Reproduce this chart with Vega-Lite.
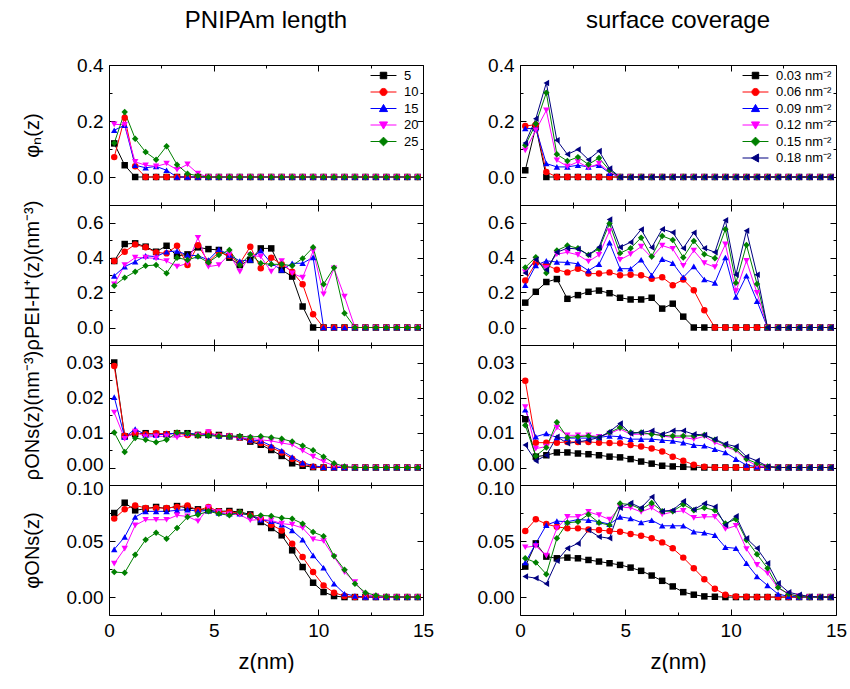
{
"$schema":"https://vega.github.io/schema/vega-lite/v6.json",
"padding":{"left":21,"top":8,"right":0,"bottom":0},
"background":"white",
"bounds":"flush",
"align":"each",
"columns":2,
"spacing":{"row":0,"column":97},
"resolve":{"scale":{"color":"independent","shape":"independent","fill":"independent","stroke":"independent"}},
"config":{
"view":{"stroke":"#000","strokeWidth":1},
"axis":{"domain":false,"grid":false,"labelFont":"Liberation Sans","labelFontSize":19,"labelColor":"#000","titleFont":"Liberation Sans","titleFontSize":20,"titleFontWeight":"normal","titleColor":"#000","tickColor":"#000","tickWidth":1,"labelPadding":12,"labelFlush":false,"labelOverlap":false,"labelBound":false},
"legend":{"labelFont":"Liberation Sans","labelFontSize":13,"labelColor":"#000","symbolSize":42,"symbolStrokeWidth":1,"rowPadding":2.5,"labelOffset":14,"padding":2,"offset":2},
"title":{"font":"Liberation Sans","fontSize":24,"fontWeight":"normal","color":"#000"}
},
"datasets":{
"a1":[
{"s":"5","x":0.25,"y":0.12},{"s":"5","x":0.75,"y":0.042},{"s":"5","x":1.25,"y":0},{"s":"5","x":1.75,"y":0},{"s":"5","x":2.25,"y":0},{"s":"5","x":2.75,"y":0},{"s":"5","x":3.25,"y":0},{"s":"5","x":3.75,"y":0},{"s":"5","x":4.25,"y":0},{"s":"5","x":4.75,"y":0},{"s":"5","x":5.25,"y":0},{"s":"5","x":5.75,"y":0},{"s":"5","x":6.25,"y":0},{"s":"5","x":6.75,"y":0},{"s":"5","x":7.25,"y":0},{"s":"5","x":7.75,"y":0},{"s":"5","x":8.25,"y":0},{"s":"5","x":8.75,"y":0},{"s":"5","x":9.25,"y":0},{"s":"5","x":9.75,"y":0},{"s":"5","x":10.25,"y":0},{"s":"5","x":10.75,"y":0},{"s":"5","x":11.25,"y":0},{"s":"5","x":11.75,"y":0},{"s":"5","x":12.25,"y":0},{"s":"5","x":12.75,"y":0},{"s":"5","x":13.25,"y":0},{"s":"5","x":13.75,"y":0},{"s":"5","x":14.25,"y":0},{"s":"5","x":14.75,"y":0},
{"s":"10","x":0.25,"y":0.071},{"s":"10","x":0.75,"y":0.212},{"s":"10","x":1.25,"y":0.038},{"s":"10","x":1.75,"y":0},{"s":"10","x":2.25,"y":0},{"s":"10","x":2.75,"y":0},{"s":"10","x":3.25,"y":0},{"s":"10","x":3.75,"y":0},{"s":"10","x":4.25,"y":0},{"s":"10","x":4.75,"y":0},{"s":"10","x":5.25,"y":0},{"s":"10","x":5.75,"y":0},{"s":"10","x":6.25,"y":0},{"s":"10","x":6.75,"y":0},{"s":"10","x":7.25,"y":0},{"s":"10","x":7.75,"y":0},{"s":"10","x":8.25,"y":0},{"s":"10","x":8.75,"y":0},{"s":"10","x":9.25,"y":0},{"s":"10","x":9.75,"y":0},{"s":"10","x":10.25,"y":0},{"s":"10","x":10.75,"y":0},{"s":"10","x":11.25,"y":0},{"s":"10","x":11.75,"y":0},{"s":"10","x":12.25,"y":0},{"s":"10","x":12.75,"y":0},{"s":"10","x":13.25,"y":0},{"s":"10","x":13.75,"y":0},{"s":"10","x":14.25,"y":0},{"s":"10","x":14.75,"y":0},
{"s":"15","x":0.25,"y":0.167},{"s":"15","x":0.75,"y":0.185},{"s":"15","x":1.25,"y":0.042},{"s":"15","x":1.75,"y":0.033},{"s":"15","x":2.25,"y":0.038},{"s":"15","x":2.75,"y":0.024},{"s":"15","x":3.25,"y":0},{"s":"15","x":3.75,"y":0},{"s":"15","x":4.25,"y":0},{"s":"15","x":4.75,"y":0},{"s":"15","x":5.25,"y":0},{"s":"15","x":5.75,"y":0},{"s":"15","x":6.25,"y":0},{"s":"15","x":6.75,"y":0},{"s":"15","x":7.25,"y":0},{"s":"15","x":7.75,"y":0},{"s":"15","x":8.25,"y":0},{"s":"15","x":8.75,"y":0},{"s":"15","x":9.25,"y":0},{"s":"15","x":9.75,"y":0},{"s":"15","x":10.25,"y":0},{"s":"15","x":10.75,"y":0},{"s":"15","x":11.25,"y":0},{"s":"15","x":11.75,"y":0},{"s":"15","x":12.25,"y":0},{"s":"15","x":12.75,"y":0},{"s":"15","x":13.25,"y":0},{"s":"15","x":13.75,"y":0},{"s":"15","x":14.25,"y":0},{"s":"15","x":14.75,"y":0},
{"s":"20","x":0.25,"y":0.188},{"s":"20","x":0.75,"y":0.187},{"s":"20","x":1.25,"y":0.054},{"s":"20","x":1.75,"y":0.042},{"s":"20","x":2.25,"y":0.038},{"s":"20","x":2.75,"y":0.048},{"s":"20","x":3.25,"y":0.026},{"s":"20","x":3.75,"y":0.045},{"s":"20","x":4.25,"y":0.012},{"s":"20","x":4.75,"y":0},{"s":"20","x":5.25,"y":0},{"s":"20","x":5.75,"y":0},{"s":"20","x":6.25,"y":0},{"s":"20","x":6.75,"y":0},{"s":"20","x":7.25,"y":0},{"s":"20","x":7.75,"y":0},{"s":"20","x":8.25,"y":0},{"s":"20","x":8.75,"y":0},{"s":"20","x":9.25,"y":0},{"s":"20","x":9.75,"y":0},{"s":"20","x":10.25,"y":0},{"s":"20","x":10.75,"y":0},{"s":"20","x":11.25,"y":0},{"s":"20","x":11.75,"y":0},{"s":"20","x":12.25,"y":0},{"s":"20","x":12.75,"y":0},{"s":"20","x":13.25,"y":0},{"s":"20","x":13.75,"y":0},{"s":"20","x":14.25,"y":0},{"s":"20","x":14.75,"y":0},
{"s":"25","x":0.25,"y":0.121},{"s":"25","x":0.75,"y":0.232},{"s":"25","x":1.25,"y":0.137},{"s":"25","x":1.75,"y":0.089},{"s":"25","x":2.25,"y":0.062},{"s":"25","x":2.75,"y":0.11},{"s":"25","x":3.25,"y":0.044},{"s":"25","x":3.75,"y":0.012},{"s":"25","x":4.25,"y":0.004},{"s":"25","x":4.75,"y":0},{"s":"25","x":5.25,"y":0},{"s":"25","x":5.75,"y":0},{"s":"25","x":6.25,"y":0},{"s":"25","x":6.75,"y":0},{"s":"25","x":7.25,"y":0},{"s":"25","x":7.75,"y":0},{"s":"25","x":8.25,"y":0},{"s":"25","x":8.75,"y":0},{"s":"25","x":9.25,"y":0},{"s":"25","x":9.75,"y":0},{"s":"25","x":10.25,"y":0},{"s":"25","x":10.75,"y":0},{"s":"25","x":11.25,"y":0},{"s":"25","x":11.75,"y":0},{"s":"25","x":12.25,"y":0},{"s":"25","x":12.75,"y":0},{"s":"25","x":13.25,"y":0},{"s":"25","x":13.75,"y":0},{"s":"25","x":14.25,"y":0},{"s":"25","x":14.75,"y":0}
],
"b1":[
{"s":"0.03","x":0.25,"y":0.024},{"s":"0.03","x":0.75,"y":0.18},{"s":"0.03","x":1.25,"y":0},{"s":"0.03","x":1.75,"y":0},{"s":"0.03","x":2.25,"y":0},{"s":"0.03","x":2.75,"y":0},{"s":"0.03","x":3.25,"y":0},{"s":"0.03","x":3.75,"y":0},{"s":"0.03","x":4.25,"y":0},{"s":"0.03","x":4.75,"y":0},{"s":"0.03","x":5.25,"y":0},{"s":"0.03","x":5.75,"y":0},{"s":"0.03","x":6.25,"y":0},{"s":"0.03","x":6.75,"y":0},{"s":"0.03","x":7.25,"y":0},{"s":"0.03","x":7.75,"y":0},{"s":"0.03","x":8.25,"y":0},{"s":"0.03","x":8.75,"y":0},{"s":"0.03","x":9.25,"y":0},{"s":"0.03","x":9.75,"y":0},{"s":"0.03","x":10.25,"y":0},{"s":"0.03","x":10.75,"y":0},{"s":"0.03","x":11.25,"y":0},{"s":"0.03","x":11.75,"y":0},{"s":"0.03","x":12.25,"y":0},{"s":"0.03","x":12.75,"y":0},{"s":"0.03","x":13.25,"y":0},{"s":"0.03","x":13.75,"y":0},{"s":"0.03","x":14.25,"y":0},{"s":"0.03","x":14.75,"y":0},
{"s":"0.06","x":0.25,"y":0.182},{"s":"0.06","x":0.75,"y":0.187},{"s":"0.06","x":1.25,"y":0.018},{"s":"0.06","x":1.75,"y":0},{"s":"0.06","x":2.25,"y":0},{"s":"0.06","x":2.75,"y":0},{"s":"0.06","x":3.25,"y":0},{"s":"0.06","x":3.75,"y":0},{"s":"0.06","x":4.25,"y":0},{"s":"0.06","x":4.75,"y":0},{"s":"0.06","x":5.25,"y":0},{"s":"0.06","x":5.75,"y":0},{"s":"0.06","x":6.25,"y":0},{"s":"0.06","x":6.75,"y":0},{"s":"0.06","x":7.25,"y":0},{"s":"0.06","x":7.75,"y":0},{"s":"0.06","x":8.25,"y":0},{"s":"0.06","x":8.75,"y":0},{"s":"0.06","x":9.25,"y":0},{"s":"0.06","x":9.75,"y":0},{"s":"0.06","x":10.25,"y":0},{"s":"0.06","x":10.75,"y":0},{"s":"0.06","x":11.25,"y":0},{"s":"0.06","x":11.75,"y":0},{"s":"0.06","x":12.25,"y":0},{"s":"0.06","x":12.75,"y":0},{"s":"0.06","x":13.25,"y":0},{"s":"0.06","x":13.75,"y":0},{"s":"0.06","x":14.25,"y":0},{"s":"0.06","x":14.75,"y":0},
{"s":"0.09","x":0.25,"y":0.173},{"s":"0.09","x":0.75,"y":0.173},{"s":"0.09","x":1.25,"y":0.048},{"s":"0.09","x":1.75,"y":0.036},{"s":"0.09","x":2.25,"y":0.036},{"s":"0.09","x":2.75,"y":0.042},{"s":"0.09","x":3.25,"y":0.036},{"s":"0.09","x":3.75,"y":0.042},{"s":"0.09","x":4.25,"y":0.014},{"s":"0.09","x":4.75,"y":0},{"s":"0.09","x":5.25,"y":0},{"s":"0.09","x":5.75,"y":0},{"s":"0.09","x":6.25,"y":0},{"s":"0.09","x":6.75,"y":0},{"s":"0.09","x":7.25,"y":0},{"s":"0.09","x":7.75,"y":0},{"s":"0.09","x":8.25,"y":0},{"s":"0.09","x":8.75,"y":0},{"s":"0.09","x":9.25,"y":0},{"s":"0.09","x":9.75,"y":0},{"s":"0.09","x":10.25,"y":0},{"s":"0.09","x":10.75,"y":0},{"s":"0.09","x":11.25,"y":0},{"s":"0.09","x":11.75,"y":0},{"s":"0.09","x":12.25,"y":0},{"s":"0.09","x":12.75,"y":0},{"s":"0.09","x":13.25,"y":0},{"s":"0.09","x":13.75,"y":0},{"s":"0.09","x":14.25,"y":0},{"s":"0.09","x":14.75,"y":0},
{"s":"0.12","x":0.25,"y":0.095},{"s":"0.12","x":0.75,"y":0.167},{"s":"0.12","x":1.25,"y":0.238},{"s":"0.12","x":1.75,"y":0.06},{"s":"0.12","x":2.25,"y":0.038},{"s":"0.12","x":2.75,"y":0.054},{"s":"0.12","x":3.25,"y":0.033},{"s":"0.12","x":3.75,"y":0.048},{"s":"0.12","x":4.25,"y":0.018},{"s":"0.12","x":4.75,"y":0},{"s":"0.12","x":5.25,"y":0},{"s":"0.12","x":5.75,"y":0},{"s":"0.12","x":6.25,"y":0},{"s":"0.12","x":6.75,"y":0},{"s":"0.12","x":7.25,"y":0},{"s":"0.12","x":7.75,"y":0},{"s":"0.12","x":8.25,"y":0},{"s":"0.12","x":8.75,"y":0},{"s":"0.12","x":9.25,"y":0},{"s":"0.12","x":9.75,"y":0},{"s":"0.12","x":10.25,"y":0},{"s":"0.12","x":10.75,"y":0},{"s":"0.12","x":11.25,"y":0},{"s":"0.12","x":11.75,"y":0},{"s":"0.12","x":12.25,"y":0},{"s":"0.12","x":12.75,"y":0},{"s":"0.12","x":13.25,"y":0},{"s":"0.12","x":13.75,"y":0},{"s":"0.12","x":14.25,"y":0},{"s":"0.12","x":14.75,"y":0},
{"s":"0.15","x":0.25,"y":0.113},{"s":"0.15","x":0.75,"y":0.19},{"s":"0.15","x":1.25,"y":0.301},{"s":"0.15","x":1.75,"y":0.081},{"s":"0.15","x":2.25,"y":0.057},{"s":"0.15","x":2.75,"y":0.071},{"s":"0.15","x":3.25,"y":0.045},{"s":"0.15","x":3.75,"y":0.068},{"s":"0.15","x":4.25,"y":0.024},{"s":"0.15","x":4.75,"y":0},{"s":"0.15","x":5.25,"y":0},{"s":"0.15","x":5.75,"y":0},{"s":"0.15","x":6.25,"y":0},{"s":"0.15","x":6.75,"y":0},{"s":"0.15","x":7.25,"y":0},{"s":"0.15","x":7.75,"y":0},{"s":"0.15","x":8.25,"y":0},{"s":"0.15","x":8.75,"y":0},{"s":"0.15","x":9.25,"y":0},{"s":"0.15","x":9.75,"y":0},{"s":"0.15","x":10.25,"y":0},{"s":"0.15","x":10.75,"y":0},{"s":"0.15","x":11.25,"y":0},{"s":"0.15","x":11.75,"y":0},{"s":"0.15","x":12.25,"y":0},{"s":"0.15","x":12.75,"y":0},{"s":"0.15","x":13.25,"y":0},{"s":"0.15","x":13.75,"y":0},{"s":"0.15","x":14.25,"y":0},{"s":"0.15","x":14.75,"y":0},
{"s":"0.18","x":0.25,"y":0.121},{"s":"0.18","x":0.75,"y":0.208},{"s":"0.18","x":1.25,"y":0.336},{"s":"0.18","x":1.75,"y":0.131},{"s":"0.18","x":2.25,"y":0.081},{"s":"0.18","x":2.75,"y":0.098},{"s":"0.18","x":3.25,"y":0.062},{"s":"0.18","x":3.75,"y":0.093},{"s":"0.18","x":4.25,"y":0.03},{"s":"0.18","x":4.75,"y":0},{"s":"0.18","x":5.25,"y":0},{"s":"0.18","x":5.75,"y":0},{"s":"0.18","x":6.25,"y":0},{"s":"0.18","x":6.75,"y":0},{"s":"0.18","x":7.25,"y":0},{"s":"0.18","x":7.75,"y":0},{"s":"0.18","x":8.25,"y":0},{"s":"0.18","x":8.75,"y":0},{"s":"0.18","x":9.25,"y":0},{"s":"0.18","x":9.75,"y":0},{"s":"0.18","x":10.25,"y":0},{"s":"0.18","x":10.75,"y":0},{"s":"0.18","x":11.25,"y":0},{"s":"0.18","x":11.75,"y":0},{"s":"0.18","x":12.25,"y":0},{"s":"0.18","x":12.75,"y":0},{"s":"0.18","x":13.25,"y":0},{"s":"0.18","x":13.75,"y":0},{"s":"0.18","x":14.25,"y":0},{"s":"0.18","x":14.75,"y":0}
],
"a2":[
{"s":"5","x":0.25,"y":0.38},{"s":"5","x":0.75,"y":0.477},{"s":"5","x":1.25,"y":0.481},{"s":"5","x":1.75,"y":0.462},{"s":"5","x":2.25,"y":0.433},{"s":"5","x":2.75,"y":0.467},{"s":"5","x":3.25,"y":0.409},{"s":"5","x":3.75,"y":0.418},{"s":"5","x":4.25,"y":0.458},{"s":"5","x":4.75,"y":0.448},{"s":"5","x":5.25,"y":0.443},{"s":"5","x":5.75,"y":0.399},{"s":"5","x":6.25,"y":0.357},{"s":"5","x":6.75,"y":0.386},{"s":"5","x":7.25,"y":0.452},{"s":"5","x":7.75,"y":0.452},{"s":"5","x":8.25,"y":0.329},{"s":"5","x":8.75,"y":0.291},{"s":"5","x":9.25,"y":0.12},{"s":"5","x":9.75,"y":0},{"s":"5","x":10.25,"y":0},{"s":"5","x":10.75,"y":0},{"s":"5","x":11.25,"y":0},{"s":"5","x":11.75,"y":0},{"s":"5","x":12.25,"y":0},{"s":"5","x":12.75,"y":0},{"s":"5","x":13.25,"y":0},{"s":"5","x":13.75,"y":0},{"s":"5","x":14.25,"y":0},{"s":"5","x":14.75,"y":0},
{"s":"10","x":0.25,"y":0.38},{"s":"10","x":0.75,"y":0.433},{"s":"10","x":1.25,"y":0.475},{"s":"10","x":1.75,"y":0.458},{"s":"10","x":2.25,"y":0.429},{"s":"10","x":2.75,"y":0.424},{"s":"10","x":3.25,"y":0.467},{"s":"10","x":3.75,"y":0.357},{"s":"10","x":4.25,"y":0.47},{"s":"10","x":4.75,"y":0.376},{"s":"10","x":5.25,"y":0.43},{"s":"10","x":5.75,"y":0.41},{"s":"10","x":6.25,"y":0.367},{"s":"10","x":6.75,"y":0.462},{"s":"10","x":7.25,"y":0.338},{"s":"10","x":7.75,"y":0.399},{"s":"10","x":8.25,"y":0.361},{"s":"10","x":8.75,"y":0.319},{"s":"10","x":9.25,"y":0.247},{"s":"10","x":9.75,"y":0.076},{"s":"10","x":10.25,"y":0},{"s":"10","x":10.75,"y":0},{"s":"10","x":11.25,"y":0},{"s":"10","x":11.75,"y":0},{"s":"10","x":12.25,"y":0},{"s":"10","x":12.75,"y":0},{"s":"10","x":13.25,"y":0},{"s":"10","x":13.75,"y":0},{"s":"10","x":14.25,"y":0},{"s":"10","x":14.75,"y":0},
{"s":"15","x":0.25,"y":0.295},{"s":"15","x":0.75,"y":0.348},{"s":"15","x":1.25,"y":0.376},{"s":"15","x":1.75,"y":0.41},{"s":"15","x":2.25,"y":0.405},{"s":"15","x":2.75,"y":0.433},{"s":"15","x":3.25,"y":0.437},{"s":"15","x":3.75,"y":0.414},{"s":"15","x":4.25,"y":0.41},{"s":"15","x":4.75,"y":0.386},{"s":"15","x":5.25,"y":0.447},{"s":"15","x":5.75,"y":0.414},{"s":"15","x":6.25,"y":0.38},{"s":"15","x":6.75,"y":0.386},{"s":"15","x":7.25,"y":0.439},{"s":"15","x":7.75,"y":0.367},{"s":"15","x":8.25,"y":0.329},{"s":"15","x":8.75,"y":0.367},{"s":"15","x":9.25,"y":0.367},{"s":"15","x":9.75,"y":0.401},{"s":"15","x":10.25,"y":0},{"s":"15","x":10.75,"y":0},{"s":"15","x":11.25,"y":0},{"s":"15","x":11.75,"y":0},{"s":"15","x":12.25,"y":0},{"s":"15","x":12.75,"y":0},{"s":"15","x":13.25,"y":0},{"s":"15","x":13.75,"y":0},{"s":"15","x":14.25,"y":0},{"s":"15","x":14.75,"y":0},
{"s":"20","x":0.25,"y":0.247},{"s":"20","x":0.75,"y":0.357},{"s":"20","x":1.25,"y":0.399},{"s":"20","x":1.75,"y":0.399},{"s":"20","x":2.25,"y":0.395},{"s":"20","x":2.75,"y":0.38},{"s":"20","x":3.25,"y":0.348},{"s":"20","x":3.75,"y":0.367},{"s":"20","x":4.25,"y":0.513},{"s":"20","x":4.75,"y":0.348},{"s":"20","x":5.25,"y":0.357},{"s":"20","x":5.75,"y":0.418},{"s":"20","x":6.25,"y":0.319},{"s":"20","x":6.75,"y":0.414},{"s":"20","x":7.25,"y":0.405},{"s":"20","x":7.75,"y":0.319},{"s":"20","x":8.25,"y":0.38},{"s":"20","x":8.75,"y":0.31},{"s":"20","x":9.25,"y":0.285},{"s":"20","x":9.75,"y":0.437},{"s":"20","x":10.25,"y":0.19},{"s":"20","x":10.75,"y":0.338},{"s":"20","x":11.25,"y":0.177},{"s":"20","x":11.75,"y":0},{"s":"20","x":12.25,"y":0},{"s":"20","x":12.75,"y":0},{"s":"20","x":13.25,"y":0},{"s":"20","x":13.75,"y":0},{"s":"20","x":14.25,"y":0},{"s":"20","x":14.75,"y":0},
{"s":"25","x":0.25,"y":0.239},{"s":"25","x":0.75,"y":0.285},{"s":"25","x":1.25,"y":0.319},{"s":"25","x":1.75,"y":0.353},{"s":"25","x":2.25,"y":0.357},{"s":"25","x":2.75,"y":0.31},{"s":"25","x":3.25,"y":0.399},{"s":"25","x":3.75,"y":0.386},{"s":"25","x":4.25,"y":0.405},{"s":"25","x":4.75,"y":0.372},{"s":"25","x":5.25,"y":0.414},{"s":"25","x":5.75,"y":0.443},{"s":"25","x":6.25,"y":0.357},{"s":"25","x":6.75,"y":0.418},{"s":"25","x":7.25,"y":0.367},{"s":"25","x":7.75,"y":0.361},{"s":"25","x":8.25,"y":0.361},{"s":"25","x":8.75,"y":0.353},{"s":"25","x":9.25,"y":0.395},{"s":"25","x":9.75,"y":0.458},{"s":"25","x":10.25,"y":0.247},{"s":"25","x":10.75,"y":0.342},{"s":"25","x":11.25,"y":0.082},{"s":"25","x":11.75,"y":0},{"s":"25","x":12.25,"y":0},{"s":"25","x":12.75,"y":0},{"s":"25","x":13.25,"y":0},{"s":"25","x":13.75,"y":0},{"s":"25","x":14.25,"y":0},{"s":"25","x":14.75,"y":0}
],
"b2":[
{"s":"0.03","x":0.25,"y":0.142},{"s":"0.03","x":0.75,"y":0.204},{"s":"0.03","x":1.25,"y":0.26},{"s":"0.03","x":1.75,"y":0.277},{"s":"0.03","x":2.25,"y":0.164},{"s":"0.03","x":2.75,"y":0.185},{"s":"0.03","x":3.25,"y":0.204},{"s":"0.03","x":3.75,"y":0.211},{"s":"0.03","x":4.25,"y":0.196},{"s":"0.03","x":4.75,"y":0.17},{"s":"0.03","x":5.25,"y":0.16},{"s":"0.03","x":5.75,"y":0.16},{"s":"0.03","x":6.25,"y":0.17},{"s":"0.03","x":6.75,"y":0.108},{"s":"0.03","x":7.25,"y":0.136},{"s":"0.03","x":7.75,"y":0.062},{"s":"0.03","x":8.25,"y":0},{"s":"0.03","x":8.75,"y":0},{"s":"0.03","x":9.25,"y":0},{"s":"0.03","x":9.75,"y":0},{"s":"0.03","x":10.25,"y":0},{"s":"0.03","x":10.75,"y":0},{"s":"0.03","x":11.25,"y":0},{"s":"0.03","x":11.75,"y":0},{"s":"0.03","x":12.25,"y":0},{"s":"0.03","x":12.75,"y":0},{"s":"0.03","x":13.25,"y":0},{"s":"0.03","x":13.75,"y":0},{"s":"0.03","x":14.25,"y":0},{"s":"0.03","x":14.75,"y":0},
{"s":"0.06","x":0.25,"y":0.268},{"s":"0.06","x":0.75,"y":0.368},{"s":"0.06","x":1.25,"y":0.358},{"s":"0.06","x":1.75,"y":0.33},{"s":"0.06","x":2.25,"y":0.315},{"s":"0.06","x":2.75,"y":0.336},{"s":"0.06","x":3.25,"y":0.308},{"s":"0.06","x":3.75,"y":0.308},{"s":"0.06","x":4.25,"y":0.315},{"s":"0.06","x":4.75,"y":0.298},{"s":"0.06","x":5.25,"y":0.302},{"s":"0.06","x":5.75,"y":0.298},{"s":"0.06","x":6.25,"y":0.279},{"s":"0.06","x":6.75,"y":0.287},{"s":"0.06","x":7.25,"y":0.242},{"s":"0.06","x":7.75,"y":0.274},{"s":"0.06","x":8.25,"y":0.213},{"s":"0.06","x":8.75,"y":0.098},{"s":"0.06","x":9.25,"y":0},{"s":"0.06","x":9.75,"y":0},{"s":"0.06","x":10.25,"y":0},{"s":"0.06","x":10.75,"y":0},{"s":"0.06","x":11.25,"y":0},{"s":"0.06","x":11.75,"y":0},{"s":"0.06","x":12.25,"y":0},{"s":"0.06","x":12.75,"y":0},{"s":"0.06","x":13.25,"y":0},{"s":"0.06","x":13.75,"y":0},{"s":"0.06","x":14.25,"y":0},{"s":"0.06","x":14.75,"y":0},
{"s":"0.09","x":0.25,"y":0.242},{"s":"0.09","x":0.75,"y":0.355},{"s":"0.09","x":1.25,"y":0.381},{"s":"0.09","x":1.75,"y":0.374},{"s":"0.09","x":2.25,"y":0.372},{"s":"0.09","x":2.75,"y":0.364},{"s":"0.09","x":3.25,"y":0.325},{"s":"0.09","x":3.75,"y":0.362},{"s":"0.09","x":4.25,"y":0.485},{"s":"0.09","x":4.75,"y":0.336},{"s":"0.09","x":5.25,"y":0.336},{"s":"0.09","x":5.75,"y":0.387},{"s":"0.09","x":6.25,"y":0.298},{"s":"0.09","x":6.75,"y":0.391},{"s":"0.09","x":7.25,"y":0.368},{"s":"0.09","x":7.75,"y":0.287},{"s":"0.09","x":8.25,"y":0.349},{"s":"0.09","x":8.75,"y":0.274},{"s":"0.09","x":9.25,"y":0.255},{"s":"0.09","x":9.75,"y":0.4},{"s":"0.09","x":10.25,"y":0.174},{"s":"0.09","x":10.75,"y":0.296},{"s":"0.09","x":11.25,"y":0.151},{"s":"0.09","x":11.75,"y":0},{"s":"0.09","x":12.25,"y":0},{"s":"0.09","x":12.75,"y":0},{"s":"0.09","x":13.25,"y":0},{"s":"0.09","x":13.75,"y":0},{"s":"0.09","x":14.25,"y":0},{"s":"0.09","x":14.75,"y":0},
{"s":"0.12","x":0.25,"y":0.317},{"s":"0.12","x":0.75,"y":0.387},{"s":"0.12","x":1.25,"y":0.34},{"s":"0.12","x":1.75,"y":0.419},{"s":"0.12","x":2.25,"y":0.43},{"s":"0.12","x":2.75,"y":0.415},{"s":"0.12","x":3.25,"y":0.377},{"s":"0.12","x":3.75,"y":0.415},{"s":"0.12","x":4.25,"y":0.551},{"s":"0.12","x":4.75,"y":0.387},{"s":"0.12","x":5.25,"y":0.419},{"s":"0.12","x":5.75,"y":0.462},{"s":"0.12","x":6.25,"y":0.4},{"s":"0.12","x":6.75,"y":0.468},{"s":"0.12","x":7.25,"y":0.449},{"s":"0.12","x":7.75,"y":0.353},{"s":"0.12","x":8.25,"y":0.44},{"s":"0.12","x":8.75,"y":0.368},{"s":"0.12","x":9.25,"y":0.345},{"s":"0.12","x":9.75,"y":0.475},{"s":"0.12","x":10.25,"y":0.208},{"s":"0.12","x":10.75,"y":0.381},{"s":"0.12","x":11.25,"y":0.198},{"s":"0.12","x":11.75,"y":0},{"s":"0.12","x":12.25,"y":0},{"s":"0.12","x":12.75,"y":0},{"s":"0.12","x":13.25,"y":0},{"s":"0.12","x":13.75,"y":0},{"s":"0.12","x":14.25,"y":0},{"s":"0.12","x":14.75,"y":0},
{"s":"0.15","x":0.25,"y":0.343},{"s":"0.15","x":0.75,"y":0.402},{"s":"0.15","x":1.25,"y":0.311},{"s":"0.15","x":1.75,"y":0.44},{"s":"0.15","x":2.25,"y":0.468},{"s":"0.15","x":2.75,"y":0.453},{"s":"0.15","x":3.25,"y":0.415},{"s":"0.15","x":3.75,"y":0.449},{"s":"0.15","x":4.25,"y":0.594},{"s":"0.15","x":4.75,"y":0.425},{"s":"0.15","x":5.25,"y":0.453},{"s":"0.15","x":5.75,"y":0.513},{"s":"0.15","x":6.25,"y":0.406},{"s":"0.15","x":6.75,"y":0.523},{"s":"0.15","x":7.25,"y":0.5},{"s":"0.15","x":7.75,"y":0.4},{"s":"0.15","x":8.25,"y":0.494},{"s":"0.15","x":8.75,"y":0.419},{"s":"0.15","x":9.25,"y":0.396},{"s":"0.15","x":9.75,"y":0.562},{"s":"0.15","x":10.25,"y":0.255},{"s":"0.15","x":10.75,"y":0.472},{"s":"0.15","x":11.25,"y":0.249},{"s":"0.15","x":11.75,"y":0},{"s":"0.15","x":12.25,"y":0},{"s":"0.15","x":12.75,"y":0},{"s":"0.15","x":13.25,"y":0},{"s":"0.15","x":13.75,"y":0},{"s":"0.15","x":14.25,"y":0},{"s":"0.15","x":14.75,"y":0},
{"s":"0.18","x":0.25,"y":0.311},{"s":"0.18","x":0.75,"y":0.387},{"s":"0.18","x":1.25,"y":0.33},{"s":"0.18","x":1.75,"y":0.43},{"s":"0.18","x":2.25,"y":0.453},{"s":"0.18","x":2.75,"y":0.449},{"s":"0.18","x":3.25,"y":0.415},{"s":"0.18","x":3.75,"y":0.459},{"s":"0.18","x":4.25,"y":0.617},{"s":"0.18","x":4.75,"y":0.459},{"s":"0.18","x":5.25,"y":0.487},{"s":"0.18","x":5.75,"y":0.56},{"s":"0.18","x":6.25,"y":0.457},{"s":"0.18","x":6.75,"y":0.562},{"s":"0.18","x":7.25,"y":0.543},{"s":"0.18","x":7.75,"y":0.453},{"s":"0.18","x":8.25,"y":0.542},{"s":"0.18","x":8.75,"y":0.453},{"s":"0.18","x":9.25,"y":0.43},{"s":"0.18","x":9.75,"y":0.613},{"s":"0.18","x":10.25,"y":0.302},{"s":"0.18","x":10.75,"y":0.553},{"s":"0.18","x":11.25,"y":0.302},{"s":"0.18","x":11.75,"y":0},{"s":"0.18","x":12.25,"y":0},{"s":"0.18","x":12.75,"y":0},{"s":"0.18","x":13.25,"y":0},{"s":"0.18","x":13.75,"y":0},{"s":"0.18","x":14.25,"y":0},{"s":"0.18","x":14.75,"y":0}
],
"a3":[
{"s":"5","x":0.25,"y":0.03},{"s":"5","x":0.75,"y":0.0089},{"s":"5","x":1.25,"y":0.0096},{"s":"5","x":1.75,"y":0.0098},{"s":"5","x":2.25,"y":0.0096},{"s":"5","x":2.75,"y":0.0095},{"s":"5","x":3.25,"y":0.0098},{"s":"5","x":3.75,"y":0.0098},{"s":"5","x":4.25,"y":0.0093},{"s":"5","x":4.75,"y":0.0093},{"s":"5","x":5.25,"y":0.0093},{"s":"5","x":5.75,"y":0.0089},{"s":"5","x":6.25,"y":0.0086},{"s":"5","x":6.75,"y":0.0074},{"s":"5","x":7.25,"y":0.0065},{"s":"5","x":7.75,"y":0.005},{"s":"5","x":8.25,"y":0.0033},{"s":"5","x":8.75,"y":0.0012},{"s":"5","x":9.25,"y":0.0005},{"s":"5","x":9.75,"y":0.0001},{"s":"5","x":10.25,"y":0},{"s":"5","x":10.75,"y":0},{"s":"5","x":11.25,"y":0},{"s":"5","x":11.75,"y":0},{"s":"5","x":12.25,"y":0},{"s":"5","x":12.75,"y":0},{"s":"5","x":13.25,"y":0},{"s":"5","x":13.75,"y":0},{"s":"5","x":14.25,"y":0},{"s":"5","x":14.75,"y":0},
{"s":"10","x":0.25,"y":0.029},{"s":"10","x":0.75,"y":0.0091},{"s":"10","x":1.25,"y":0.0098},{"s":"10","x":1.75,"y":0.0095},{"s":"10","x":2.25,"y":0.0098},{"s":"10","x":2.75,"y":0.0096},{"s":"10","x":3.25,"y":0.0098},{"s":"10","x":3.75,"y":0.0093},{"s":"10","x":4.25,"y":0.0093},{"s":"10","x":4.75,"y":0.01},{"s":"10","x":5.25,"y":0.0091},{"s":"10","x":5.75,"y":0.009},{"s":"10","x":6.25,"y":0.0086},{"s":"10","x":6.75,"y":0.0077},{"s":"10","x":7.25,"y":0.007},{"s":"10","x":7.75,"y":0.0057},{"s":"10","x":8.25,"y":0.0043},{"s":"10","x":8.75,"y":0.0025},{"s":"10","x":9.25,"y":0.001},{"s":"10","x":9.75,"y":0.0002},{"s":"10","x":10.25,"y":0},{"s":"10","x":10.75,"y":0},{"s":"10","x":11.25,"y":0},{"s":"10","x":11.75,"y":0},{"s":"10","x":12.25,"y":0},{"s":"10","x":12.75,"y":0},{"s":"10","x":13.25,"y":0},{"s":"10","x":13.75,"y":0},{"s":"10","x":14.25,"y":0},{"s":"10","x":14.75,"y":0},
{"s":"15","x":0.25,"y":0.0201},{"s":"15","x":0.75,"y":0.0087},{"s":"15","x":1.25,"y":0.011},{"s":"15","x":1.75,"y":0.0093},{"s":"15","x":2.25,"y":0.0093},{"s":"15","x":2.75,"y":0.0096},{"s":"15","x":3.25,"y":0.0098},{"s":"15","x":3.75,"y":0.0098},{"s":"15","x":4.25,"y":0.0095},{"s":"15","x":4.75,"y":0.0095},{"s":"15","x":5.25,"y":0.009},{"s":"15","x":5.75,"y":0.0091},{"s":"15","x":6.25,"y":0.0087},{"s":"15","x":6.75,"y":0.0079},{"s":"15","x":7.25,"y":0.0076},{"s":"15","x":7.75,"y":0.0062},{"s":"15","x":8.25,"y":0.0048},{"s":"15","x":8.75,"y":0.003},{"s":"15","x":9.25,"y":0.0014},{"s":"15","x":9.75,"y":0.0005},{"s":"15","x":10.25,"y":0.0001},{"s":"15","x":10.75,"y":0},{"s":"15","x":11.25,"y":0},{"s":"15","x":11.75,"y":0},{"s":"15","x":12.25,"y":0},{"s":"15","x":12.75,"y":0},{"s":"15","x":13.25,"y":0},{"s":"15","x":13.75,"y":0},{"s":"15","x":14.25,"y":0},{"s":"15","x":14.75,"y":0},
{"s":"20","x":0.25,"y":0.0157},{"s":"20","x":0.75,"y":0.0082},{"s":"20","x":1.25,"y":0.0103},{"s":"20","x":1.75,"y":0.0087},{"s":"20","x":2.25,"y":0.0089},{"s":"20","x":2.75,"y":0.0089},{"s":"20","x":3.25,"y":0.0086},{"s":"20","x":3.75,"y":0.0093},{"s":"20","x":4.25,"y":0.0091},{"s":"20","x":4.75,"y":0.0101},{"s":"20","x":5.25,"y":0.0089},{"s":"20","x":5.75,"y":0.0089},{"s":"20","x":6.25,"y":0.0084},{"s":"20","x":6.75,"y":0.0084},{"s":"20","x":7.25,"y":0.0079},{"s":"20","x":7.75,"y":0.0076},{"s":"20","x":8.25,"y":0.007},{"s":"20","x":8.75,"y":0.0065},{"s":"20","x":9.25,"y":0.0048},{"s":"20","x":9.75,"y":0.0031},{"s":"20","x":10.25,"y":0.0017},{"s":"20","x":10.75,"y":0.0005},{"s":"20","x":11.25,"y":0.0001},{"s":"20","x":11.75,"y":0},{"s":"20","x":12.25,"y":0},{"s":"20","x":12.75,"y":0},{"s":"20","x":13.25,"y":0},{"s":"20","x":13.75,"y":0},{"s":"20","x":14.25,"y":0},{"s":"20","x":14.75,"y":0},
{"s":"25","x":0.25,"y":0.01},{"s":"25","x":0.75,"y":0.0044},{"s":"25","x":1.25,"y":0.0084},{"s":"25","x":1.75,"y":0.0079},{"s":"25","x":2.25,"y":0.0072},{"s":"25","x":2.75,"y":0.0079},{"s":"25","x":3.25,"y":0.01},{"s":"25","x":3.75,"y":0.0098},{"s":"25","x":4.25,"y":0.0091},{"s":"25","x":4.75,"y":0.0091},{"s":"25","x":5.25,"y":0.0089},{"s":"25","x":5.75,"y":0.0089},{"s":"25","x":6.25,"y":0.009},{"s":"25","x":6.75,"y":0.0087},{"s":"25","x":7.25,"y":0.0089},{"s":"25","x":7.75,"y":0.0086},{"s":"25","x":8.25,"y":0.0082},{"s":"25","x":8.75,"y":0.0074},{"s":"25","x":9.25,"y":0.0062},{"s":"25","x":9.75,"y":0.0049},{"s":"25","x":10.25,"y":0.0031},{"s":"25","x":10.75,"y":0.0012},{"s":"25","x":11.25,"y":0.0003},{"s":"25","x":11.75,"y":0},{"s":"25","x":12.25,"y":0},{"s":"25","x":12.75,"y":0},{"s":"25","x":13.25,"y":0},{"s":"25","x":13.75,"y":0},{"s":"25","x":14.25,"y":0},{"s":"25","x":14.75,"y":0}
],
"b3":[
{"s":"0.03","x":0.25,"y":0.0138},{"s":"0.03","x":0.75,"y":0.0031},{"s":"0.03","x":1.25,"y":0.0035},{"s":"0.03","x":1.75,"y":0.0043},{"s":"0.03","x":2.25,"y":0.0043},{"s":"0.03","x":2.75,"y":0.004},{"s":"0.03","x":3.25,"y":0.0038},{"s":"0.03","x":3.75,"y":0.0035},{"s":"0.03","x":4.25,"y":0.0031},{"s":"0.03","x":4.75,"y":0.0029},{"s":"0.03","x":5.25,"y":0.0024},{"s":"0.03","x":5.75,"y":0.0017},{"s":"0.03","x":6.25,"y":0.0011},{"s":"0.03","x":6.75,"y":0.0005},{"s":"0.03","x":7.25,"y":0.0003},{"s":"0.03","x":7.75,"y":0.0002},{"s":"0.03","x":8.25,"y":0.0001},{"s":"0.03","x":8.75,"y":0},{"s":"0.03","x":9.25,"y":0},{"s":"0.03","x":9.75,"y":0},{"s":"0.03","x":10.25,"y":0},{"s":"0.03","x":10.75,"y":0},{"s":"0.03","x":11.25,"y":0},{"s":"0.03","x":11.75,"y":0},{"s":"0.03","x":12.25,"y":0},{"s":"0.03","x":12.75,"y":0},{"s":"0.03","x":13.25,"y":0},{"s":"0.03","x":13.75,"y":0},{"s":"0.03","x":14.25,"y":0},{"s":"0.03","x":14.75,"y":0},
{"s":"0.06","x":0.25,"y":0.0248},{"s":"0.06","x":0.75,"y":0.0071},{"s":"0.06","x":1.25,"y":0.0071},{"s":"0.06","x":1.75,"y":0.0071},{"s":"0.06","x":2.25,"y":0.0073},{"s":"0.06","x":2.75,"y":0.0073},{"s":"0.06","x":3.25,"y":0.0073},{"s":"0.06","x":3.75,"y":0.0071},{"s":"0.06","x":4.25,"y":0.007},{"s":"0.06","x":4.75,"y":0.0069},{"s":"0.06","x":5.25,"y":0.0064},{"s":"0.06","x":5.75,"y":0.006},{"s":"0.06","x":6.25,"y":0.0054},{"s":"0.06","x":6.75,"y":0.0046},{"s":"0.06","x":7.25,"y":0.0031},{"s":"0.06","x":7.75,"y":0.0019},{"s":"0.06","x":8.25,"y":0.0008},{"s":"0.06","x":8.75,"y":0.0002},{"s":"0.06","x":9.25,"y":0},{"s":"0.06","x":9.75,"y":0},{"s":"0.06","x":10.25,"y":0},{"s":"0.06","x":10.75,"y":0},{"s":"0.06","x":11.25,"y":0},{"s":"0.06","x":11.75,"y":0},{"s":"0.06","x":12.25,"y":0},{"s":"0.06","x":12.75,"y":0},{"s":"0.06","x":13.25,"y":0},{"s":"0.06","x":13.75,"y":0},{"s":"0.06","x":14.25,"y":0},{"s":"0.06","x":14.75,"y":0},
{"s":"0.09","x":0.25,"y":0.0165},{"s":"0.09","x":0.75,"y":0.0088},{"s":"0.09","x":1.25,"y":0.0097},{"s":"0.09","x":1.75,"y":0.0086},{"s":"0.09","x":2.25,"y":0.0084},{"s":"0.09","x":2.75,"y":0.0084},{"s":"0.09","x":3.25,"y":0.0084},{"s":"0.09","x":3.75,"y":0.0086},{"s":"0.09","x":4.25,"y":0.009},{"s":"0.09","x":4.75,"y":0.0088},{"s":"0.09","x":5.25,"y":0.0081},{"s":"0.09","x":5.75,"y":0.0081},{"s":"0.09","x":6.25,"y":0.0081},{"s":"0.09","x":6.75,"y":0.0078},{"s":"0.09","x":7.25,"y":0.0076},{"s":"0.09","x":7.75,"y":0.0071},{"s":"0.09","x":8.25,"y":0.0064},{"s":"0.09","x":8.75,"y":0.0062},{"s":"0.09","x":9.25,"y":0.0052},{"s":"0.09","x":9.75,"y":0.0043},{"s":"0.09","x":10.25,"y":0.0024},{"s":"0.09","x":10.75,"y":0.0007},{"s":"0.09","x":11.25,"y":0.0002},{"s":"0.09","x":11.75,"y":0},{"s":"0.09","x":12.25,"y":0},{"s":"0.09","x":12.75,"y":0},{"s":"0.09","x":13.25,"y":0},{"s":"0.09","x":13.75,"y":0},{"s":"0.09","x":14.25,"y":0},{"s":"0.09","x":14.75,"y":0},
{"s":"0.12","x":0.25,"y":0.0173},{"s":"0.12","x":0.75,"y":0.0054},{"s":"0.12","x":1.25,"y":0.006},{"s":"0.12","x":1.75,"y":0.0114},{"s":"0.12","x":2.25,"y":0.0092},{"s":"0.12","x":2.75,"y":0.0092},{"s":"0.12","x":3.25,"y":0.0092},{"s":"0.12","x":3.75,"y":0.0088},{"s":"0.12","x":4.25,"y":0.0097},{"s":"0.12","x":4.75,"y":0.011},{"s":"0.12","x":5.25,"y":0.0095},{"s":"0.12","x":5.75,"y":0.0095},{"s":"0.12","x":6.25,"y":0.0097},{"s":"0.12","x":6.75,"y":0.009},{"s":"0.12","x":7.25,"y":0.0086},{"s":"0.12","x":7.75,"y":0.0086},{"s":"0.12","x":8.25,"y":0.0081},{"s":"0.12","x":8.75,"y":0.0089},{"s":"0.12","x":9.25,"y":0.0071},{"s":"0.12","x":9.75,"y":0.006},{"s":"0.12","x":10.25,"y":0.0048},{"s":"0.12","x":10.75,"y":0.0021},{"s":"0.12","x":11.25,"y":0.0005},{"s":"0.12","x":11.75,"y":0.0002},{"s":"0.12","x":12.25,"y":0},{"s":"0.12","x":12.75,"y":0},{"s":"0.12","x":13.25,"y":0},{"s":"0.12","x":13.75,"y":0},{"s":"0.12","x":14.25,"y":0},{"s":"0.12","x":14.75,"y":0},
{"s":"0.15","x":0.25,"y":0.0121},{"s":"0.15","x":0.75,"y":0.0033},{"s":"0.15","x":1.25,"y":0.0057},{"s":"0.15","x":1.75,"y":0.0129},{"s":"0.15","x":2.25,"y":0.0086},{"s":"0.15","x":2.75,"y":0.0088},{"s":"0.15","x":3.25,"y":0.009},{"s":"0.15","x":3.75,"y":0.0086},{"s":"0.15","x":4.25,"y":0.01},{"s":"0.15","x":4.75,"y":0.0114},{"s":"0.15","x":5.25,"y":0.01},{"s":"0.15","x":5.75,"y":0.01},{"s":"0.15","x":6.25,"y":0.0095},{"s":"0.15","x":6.75,"y":0.0092},{"s":"0.15","x":7.25,"y":0.009},{"s":"0.15","x":7.75,"y":0.009},{"s":"0.15","x":8.25,"y":0.009},{"s":"0.15","x":8.75,"y":0.0093},{"s":"0.15","x":9.25,"y":0.0079},{"s":"0.15","x":9.75,"y":0.0064},{"s":"0.15","x":10.25,"y":0.0052},{"s":"0.15","x":10.75,"y":0.0024},{"s":"0.15","x":11.25,"y":0.0012},{"s":"0.15","x":11.75,"y":0.0003},{"s":"0.15","x":12.25,"y":0},{"s":"0.15","x":12.75,"y":0},{"s":"0.15","x":13.25,"y":0},{"s":"0.15","x":13.75,"y":0},{"s":"0.15","x":14.25,"y":0},{"s":"0.15","x":14.75,"y":0},
{"s":"0.18","x":0.25,"y":0.0064},{"s":"0.18","x":0.75,"y":0.0019},{"s":"0.18","x":1.25,"y":0.0035},{"s":"0.18","x":1.75,"y":0.0088},{"s":"0.18","x":2.25,"y":0.0069},{"s":"0.18","x":2.75,"y":0.0073},{"s":"0.18","x":3.25,"y":0.0078},{"s":"0.18","x":3.75,"y":0.0086},{"s":"0.18","x":4.25,"y":0.0102},{"s":"0.18","x":4.75,"y":0.0126},{"s":"0.18","x":5.25,"y":0.0097},{"s":"0.18","x":5.75,"y":0.01},{"s":"0.18","x":6.25,"y":0.0105},{"s":"0.18","x":6.75,"y":0.0095},{"s":"0.18","x":7.25,"y":0.0105},{"s":"0.18","x":7.75,"y":0.0105},{"s":"0.18","x":8.25,"y":0.0095},{"s":"0.18","x":8.75,"y":0.0093},{"s":"0.18","x":9.25,"y":0.0081},{"s":"0.18","x":9.75,"y":0.0067},{"s":"0.18","x":10.25,"y":0.006},{"s":"0.18","x":10.75,"y":0.0031},{"s":"0.18","x":11.25,"y":0.0019},{"s":"0.18","x":11.75,"y":0.0003},{"s":"0.18","x":12.25,"y":0},{"s":"0.18","x":12.75,"y":0},{"s":"0.18","x":13.25,"y":0},{"s":"0.18","x":13.75,"y":0},{"s":"0.18","x":14.25,"y":0},{"s":"0.18","x":14.75,"y":0}
],
"a4":[
{"s":"5","x":0.25,"y":0.075},{"s":"5","x":0.75,"y":0.0842},{"s":"5","x":1.25,"y":0.0774},{"s":"5","x":1.75,"y":0.0789},{"s":"5","x":2.25,"y":0.0804},{"s":"5","x":2.75,"y":0.0789},{"s":"5","x":3.25,"y":0.0812},{"s":"5","x":3.75,"y":0.0795},{"s":"5","x":4.25,"y":0.0783},{"s":"5","x":4.75,"y":0.0774},{"s":"5","x":5.25,"y":0.0765},{"s":"5","x":5.75,"y":0.0768},{"s":"5","x":6.25,"y":0.0759},{"s":"5","x":6.75,"y":0.0738},{"s":"5","x":7.25,"y":0.067},{"s":"5","x":7.75,"y":0.0616},{"s":"5","x":8.25,"y":0.0551},{"s":"5","x":8.75,"y":0.0417},{"s":"5","x":9.25,"y":0.0268},{"s":"5","x":9.75,"y":0.0128},{"s":"5","x":10.25,"y":0.0045},{"s":"5","x":10.75,"y":0.0009},{"s":"5","x":11.25,"y":0},{"s":"5","x":11.75,"y":0},{"s":"5","x":12.25,"y":0},{"s":"5","x":12.75,"y":0},{"s":"5","x":13.25,"y":0},{"s":"5","x":13.75,"y":0},{"s":"5","x":14.25,"y":0},{"s":"5","x":14.75,"y":0},
{"s":"10","x":0.25,"y":0.07},{"s":"10","x":0.75,"y":0.0783},{"s":"10","x":1.25,"y":0.0818},{"s":"10","x":1.75,"y":0.0795},{"s":"10","x":2.25,"y":0.0795},{"s":"10","x":2.75,"y":0.0795},{"s":"10","x":3.25,"y":0.0804},{"s":"10","x":3.75,"y":0.0818},{"s":"10","x":4.25,"y":0.0774},{"s":"10","x":4.75,"y":0.0804},{"s":"10","x":5.25,"y":0.0765},{"s":"10","x":5.75,"y":0.0759},{"s":"10","x":6.25,"y":0.075},{"s":"10","x":6.75,"y":0.0729},{"s":"10","x":7.25,"y":0.07},{"s":"10","x":7.75,"y":0.0646},{"s":"10","x":8.25,"y":0.0595},{"s":"10","x":8.75,"y":0.0476},{"s":"10","x":9.25,"y":0.0357},{"s":"10","x":9.75,"y":0.0223},{"s":"10","x":10.25,"y":0.0104},{"s":"10","x":10.75,"y":0.0039},{"s":"10","x":11.25,"y":0.0009},{"s":"10","x":11.75,"y":0},{"s":"10","x":12.25,"y":0},{"s":"10","x":12.75,"y":0},{"s":"10","x":13.25,"y":0},{"s":"10","x":13.75,"y":0},{"s":"10","x":14.25,"y":0},{"s":"10","x":14.75,"y":0},
{"s":"15","x":0.25,"y":0.0426},{"s":"15","x":0.75,"y":0.0536},{"s":"15","x":1.25,"y":0.0714},{"s":"15","x":1.75,"y":0.0765},{"s":"15","x":2.25,"y":0.0765},{"s":"15","x":2.75,"y":0.0765},{"s":"15","x":3.25,"y":0.0774},{"s":"15","x":3.75,"y":0.078},{"s":"15","x":4.25,"y":0.0765},{"s":"15","x":4.75,"y":0.0774},{"s":"15","x":5.25,"y":0.075},{"s":"15","x":5.75,"y":0.0744},{"s":"15","x":6.25,"y":0.0744},{"s":"15","x":6.75,"y":0.0735},{"s":"15","x":7.25,"y":0.069},{"s":"15","x":7.75,"y":0.0676},{"s":"15","x":8.25,"y":0.0646},{"s":"15","x":8.75,"y":0.0595},{"s":"15","x":9.25,"y":0.0512},{"s":"15","x":9.75,"y":0.0372},{"s":"15","x":10.25,"y":0.0262},{"s":"15","x":10.75,"y":0.0119},{"s":"15","x":11.25,"y":0.003},{"s":"15","x":11.75,"y":0.0009},{"s":"15","x":12.25,"y":0},{"s":"15","x":12.75,"y":0},{"s":"15","x":13.25,"y":0},{"s":"15","x":13.75,"y":0},{"s":"15","x":14.25,"y":0},{"s":"15","x":14.75,"y":0},
{"s":"20","x":0.25,"y":0.0298},{"s":"20","x":0.75,"y":0.0432},{"s":"20","x":1.25,"y":0.064},{"s":"20","x":1.75,"y":0.069},{"s":"20","x":2.25,"y":0.069},{"s":"20","x":2.75,"y":0.069},{"s":"20","x":3.25,"y":0.0729},{"s":"20","x":3.75,"y":0.072},{"s":"20","x":4.25,"y":0.0676},{"s":"20","x":4.75,"y":0.0798},{"s":"20","x":5.25,"y":0.0759},{"s":"20","x":5.75,"y":0.0738},{"s":"20","x":6.25,"y":0.0735},{"s":"20","x":6.75,"y":0.0685},{"s":"20","x":7.25,"y":0.0693},{"s":"20","x":7.75,"y":0.0685},{"s":"20","x":8.25,"y":0.0655},{"s":"20","x":8.75,"y":0.0646},{"s":"20","x":9.25,"y":0.0616},{"s":"20","x":9.75,"y":0.0515},{"s":"20","x":10.25,"y":0.05},{"s":"20","x":10.75,"y":0.0357},{"s":"20","x":11.25,"y":0.0223},{"s":"20","x":11.75,"y":0.0134},{"s":"20","x":12.25,"y":0.0021},{"s":"20","x":12.75,"y":0.0006},{"s":"20","x":13.25,"y":0},{"s":"20","x":13.75,"y":0},{"s":"20","x":14.25,"y":0},{"s":"20","x":14.75,"y":0},
{"s":"25","x":0.25,"y":0.0223},{"s":"25","x":0.75,"y":0.0217},{"s":"25","x":1.25,"y":0.0378},{"s":"25","x":1.75,"y":0.0512},{"s":"25","x":2.25,"y":0.0574},{"s":"25","x":2.75,"y":0.0521},{"s":"25","x":3.25,"y":0.0616},{"s":"25","x":3.75,"y":0.0714},{"s":"25","x":4.25,"y":0.0735},{"s":"25","x":4.75,"y":0.0765},{"s":"25","x":5.25,"y":0.0744},{"s":"25","x":5.75,"y":0.0729},{"s":"25","x":6.25,"y":0.0759},{"s":"25","x":6.75,"y":0.0723},{"s":"25","x":7.25,"y":0.0729},{"s":"25","x":7.75,"y":0.0723},{"s":"25","x":8.25,"y":0.0705},{"s":"25","x":8.75,"y":0.0699},{"s":"25","x":9.25,"y":0.0655},{"s":"25","x":9.75,"y":0.058},{"s":"25","x":10.25,"y":0.0542},{"s":"25","x":10.75,"y":0.0366},{"s":"25","x":11.25,"y":0.0244},{"s":"25","x":11.75,"y":0.0119},{"s":"25","x":12.25,"y":0.0039},{"s":"25","x":12.75,"y":0.0015},{"s":"25","x":13.25,"y":0.0006},{"s":"25","x":13.75,"y":0},{"s":"25","x":14.25,"y":0},{"s":"25","x":14.75,"y":0}
],
"b4":[
{"s":"0.03","x":0.25,"y":0.0272},{"s":"0.03","x":0.75,"y":0.0479},{"s":"0.03","x":1.25,"y":0.0361},{"s":"0.03","x":1.75,"y":0.0346},{"s":"0.03","x":2.25,"y":0.0352},{"s":"0.03","x":2.75,"y":0.0346},{"s":"0.03","x":3.25,"y":0.0331},{"s":"0.03","x":3.75,"y":0.0317},{"s":"0.03","x":4.25,"y":0.0302},{"s":"0.03","x":4.75,"y":0.0287},{"s":"0.03","x":5.25,"y":0.0263},{"s":"0.03","x":5.75,"y":0.0234},{"s":"0.03","x":6.25,"y":0.0192},{"s":"0.03","x":6.75,"y":0.0145},{"s":"0.03","x":7.25,"y":0.0095},{"s":"0.03","x":7.75,"y":0.0044},{"s":"0.03","x":8.25,"y":0.0021},{"s":"0.03","x":8.75,"y":0.0006},{"s":"0.03","x":9.25,"y":0.0003},{"s":"0.03","x":9.75,"y":0},{"s":"0.03","x":10.25,"y":0},{"s":"0.03","x":10.75,"y":0},{"s":"0.03","x":11.25,"y":0},{"s":"0.03","x":11.75,"y":0},{"s":"0.03","x":12.25,"y":0},{"s":"0.03","x":12.75,"y":0},{"s":"0.03","x":13.25,"y":0},{"s":"0.03","x":13.75,"y":0},{"s":"0.03","x":14.25,"y":0},{"s":"0.03","x":14.75,"y":0},
{"s":"0.06","x":0.25,"y":0.0589},{"s":"0.06","x":0.75,"y":0.0695},{"s":"0.06","x":1.25,"y":0.0651},{"s":"0.06","x":1.75,"y":0.0627},{"s":"0.06","x":2.25,"y":0.0613},{"s":"0.06","x":2.75,"y":0.0613},{"s":"0.06","x":3.25,"y":0.0604},{"s":"0.06","x":3.75,"y":0.0598},{"s":"0.06","x":4.25,"y":0.0589},{"s":"0.06","x":4.75,"y":0.0583},{"s":"0.06","x":5.25,"y":0.0562},{"s":"0.06","x":5.75,"y":0.0547},{"s":"0.06","x":6.25,"y":0.0524},{"s":"0.06","x":6.75,"y":0.0488},{"s":"0.06","x":7.25,"y":0.0435},{"s":"0.06","x":7.75,"y":0.0352},{"s":"0.06","x":8.25,"y":0.0257},{"s":"0.06","x":8.75,"y":0.016},{"s":"0.06","x":9.25,"y":0.0074},{"s":"0.06","x":9.75,"y":0.0021},{"s":"0.06","x":10.25,"y":0.0006},{"s":"0.06","x":10.75,"y":0.0003},{"s":"0.06","x":11.25,"y":0},{"s":"0.06","x":11.75,"y":0},{"s":"0.06","x":12.25,"y":0},{"s":"0.06","x":12.75,"y":0},{"s":"0.06","x":13.25,"y":0},{"s":"0.06","x":13.75,"y":0},{"s":"0.06","x":14.25,"y":0},{"s":"0.06","x":14.75,"y":0},
{"s":"0.09","x":0.25,"y":0.0308},{"s":"0.09","x":0.75,"y":0.0479},{"s":"0.09","x":1.25,"y":0.0642},{"s":"0.09","x":1.75,"y":0.0678},{"s":"0.09","x":2.25,"y":0.0672},{"s":"0.09","x":2.75,"y":0.0692},{"s":"0.09","x":3.25,"y":0.0686},{"s":"0.09","x":3.75,"y":0.0672},{"s":"0.09","x":4.25,"y":0.0651},{"s":"0.09","x":4.75,"y":0.0716},{"s":"0.09","x":5.25,"y":0.0701},{"s":"0.09","x":5.75,"y":0.0666},{"s":"0.09","x":6.25,"y":0.0686},{"s":"0.09","x":6.75,"y":0.0636},{"s":"0.09","x":7.25,"y":0.0636},{"s":"0.09","x":7.75,"y":0.0636},{"s":"0.09","x":8.25,"y":0.0583},{"s":"0.09","x":8.75,"y":0.0574},{"s":"0.09","x":9.25,"y":0.0553},{"s":"0.09","x":9.75,"y":0.0444},{"s":"0.09","x":10.25,"y":0.0435},{"s":"0.09","x":10.75,"y":0.0302},{"s":"0.09","x":11.25,"y":0.0183},{"s":"0.09","x":11.75,"y":0.0104},{"s":"0.09","x":12.25,"y":0.0027},{"s":"0.09","x":12.75,"y":0.0006},{"s":"0.09","x":13.25,"y":0},{"s":"0.09","x":13.75,"y":0},{"s":"0.09","x":14.25,"y":0},{"s":"0.09","x":14.75,"y":0},
{"s":"0.12","x":0.25,"y":0.0444},{"s":"0.12","x":0.75,"y":0.0456},{"s":"0.12","x":1.25,"y":0.037},{"s":"0.12","x":1.75,"y":0.0613},{"s":"0.12","x":2.25,"y":0.0716},{"s":"0.12","x":2.75,"y":0.0716},{"s":"0.12","x":3.25,"y":0.076},{"s":"0.12","x":3.75,"y":0.0731},{"s":"0.12","x":4.25,"y":0.0692},{"s":"0.12","x":4.75,"y":0.0805},{"s":"0.12","x":5.25,"y":0.0796},{"s":"0.12","x":5.75,"y":0.076},{"s":"0.12","x":6.25,"y":0.0796},{"s":"0.12","x":6.75,"y":0.0737},{"s":"0.12","x":7.25,"y":0.076},{"s":"0.12","x":7.75,"y":0.0769},{"s":"0.12","x":8.25,"y":0.0707},{"s":"0.12","x":8.75,"y":0.0716},{"s":"0.12","x":9.25,"y":0.0716},{"s":"0.12","x":9.75,"y":0.0607},{"s":"0.12","x":10.25,"y":0.0636},{"s":"0.12","x":10.75,"y":0.0429},{"s":"0.12","x":11.25,"y":0.0287},{"s":"0.12","x":11.75,"y":0.0213},{"s":"0.12","x":12.25,"y":0.008},{"s":"0.12","x":12.75,"y":0.0027},{"s":"0.12","x":13.25,"y":0.0006},{"s":"0.12","x":13.75,"y":0},{"s":"0.12","x":14.25,"y":0},{"s":"0.12","x":14.75,"y":0},
{"s":"0.15","x":0.25,"y":0.0346},{"s":"0.15","x":0.75,"y":0.0308},{"s":"0.15","x":1.25,"y":0.0204},{"s":"0.15","x":1.75,"y":0.0524},{"s":"0.15","x":2.25,"y":0.0663},{"s":"0.15","x":2.75,"y":0.0672},{"s":"0.15","x":3.25,"y":0.0737},{"s":"0.15","x":3.75,"y":0.0663},{"s":"0.15","x":4.25,"y":0.0642},{"s":"0.15","x":4.75,"y":0.0834},{"s":"0.15","x":5.25,"y":0.0826},{"s":"0.15","x":5.75,"y":0.0784},{"s":"0.15","x":6.25,"y":0.084},{"s":"0.15","x":6.75,"y":0.0766},{"s":"0.15","x":7.25,"y":0.0766},{"s":"0.15","x":7.75,"y":0.0826},{"s":"0.15","x":8.25,"y":0.0775},{"s":"0.15","x":8.75,"y":0.0796},{"s":"0.15","x":9.25,"y":0.0775},{"s":"0.15","x":9.75,"y":0.0657},{"s":"0.15","x":10.25,"y":0.0695},{"s":"0.15","x":10.75,"y":0.0509},{"s":"0.15","x":11.25,"y":0.0382},{"s":"0.15","x":11.75,"y":0.0257},{"s":"0.15","x":12.25,"y":0.0086},{"s":"0.15","x":12.75,"y":0.0027},{"s":"0.15","x":13.25,"y":0.0006},{"s":"0.15","x":13.75,"y":0},{"s":"0.15","x":14.25,"y":0},{"s":"0.15","x":14.75,"y":0},
{"s":"0.18","x":0.25,"y":0.0183},{"s":"0.18","x":0.75,"y":0.0169},{"s":"0.18","x":1.25,"y":0.0118},{"s":"0.18","x":1.75,"y":0.0323},{"s":"0.18","x":2.25,"y":0.0435},{"s":"0.18","x":2.75,"y":0.0479},{"s":"0.18","x":3.25,"y":0.0598},{"s":"0.18","x":3.75,"y":0.0539},{"s":"0.18","x":4.25,"y":0.0524},{"s":"0.18","x":4.75,"y":0.0796},{"s":"0.18","x":5.25,"y":0.084},{"s":"0.18","x":5.75,"y":0.0796},{"s":"0.18","x":6.25,"y":0.0894},{"s":"0.18","x":6.75,"y":0.0766},{"s":"0.18","x":7.25,"y":0.0775},{"s":"0.18","x":7.75,"y":0.0855},{"s":"0.18","x":8.25,"y":0.0781},{"s":"0.18","x":8.75,"y":0.0834},{"s":"0.18","x":9.25,"y":0.0805},{"s":"0.18","x":9.75,"y":0.0642},{"s":"0.18","x":10.25,"y":0.0722},{"s":"0.18","x":10.75,"y":0.0524},{"s":"0.18","x":11.25,"y":0.0435},{"s":"0.18","x":11.75,"y":0.0302},{"s":"0.18","x":12.25,"y":0.0124},{"s":"0.18","x":12.75,"y":0.0044},{"s":"0.18","x":13.25,"y":0.002},{"s":"0.18","x":13.75,"y":0.0006},{"s":"0.18","x":14.25,"y":0},{"s":"0.18","x":14.75,"y":0}
]
},
"concat":[
{"width":314,"height":140,"data":{"name":"a1"},
"title":{"text":"PNIPAm length","frame":"group","anchor":"middle","offset":4,"baseline":"alphabetic"},
"layer":[
{"mark":{"type":"line","strokeWidth":1},"encoding":{
"x":{"field":"x","type":"quantitative","scale":{"domain":[0,15],"nice":false},"axis":{"values":[0,2.5,5,7.5,10,12.5,15],"labels":false,"title":null,"tickSize":{"condition":{"test":"datum.value % 5 === 0","value":-6},"value":-3}}},
"y":{"field":"y","type":"quantitative","scale":{"domain":[-0.1,0.4],"nice":false,"zero":false},"axis":{"title":"φₙ(z)","titleX":-67,"values":[-0.1,0,0.1,0.2,0.3,0.4],"format":".1f","labelExpr":"abs(datum.value/0.2-round(datum.value/0.2))<0.01 ? datum.label : ''","tickSize":{"condition":{"test":"abs(datum.value/0.2-round(datum.value/0.2))<0.01","value":-6},"value":-3}}},
"color":{"field":"s","type":"nominal","scale":{"domain":["5","10","15","20","25"],"range":["#000000","#ff0000","#0000ff","#ff00ff","#008000"]},"legend":null}}},
{"mark":{"type":"point","filled":true,"size":42,"opacity":1},"encoding":{
"x":{"field":"x","type":"quantitative","axis":null},"y":{"field":"y","type":"quantitative","axis":null},
"color":{"field":"s","type":"nominal","legend":null},
"shape":{"field":"s","type":"nominal","scale":{"domain":["5","10","15","20","25"],"range":["square","circle","triangle-up","triangle-down","diamond"]},"legend":null}}},
{"transform":[{"filter":"false"}],"mark":{"type":"point","filled":true,"opacity":1},"encoding":{
"x":{"field":"x","type":"quantitative","axis":{"orient":"top","values":[0,2.5,5,7.5,10,12.5,15],"labels":false,"title":null,"tickSize":{"condition":{"test":"datum.value % 5 === 0","value":-6},"value":-3}}},
"y":{"field":"y","type":"quantitative","axis":{"orient":"right","values":[-0.1,0,0.1,0.2,0.3,0.4],"labels":false,"title":null,"tickSize":{"condition":{"test":"abs(datum.value/0.2-round(datum.value/0.2))<0.01","value":-6},"value":-3}}},
"fill":{"field":"s","type":"nominal","scale":{"domain":["5","10","15","20","25"],"range":["#000000","#ff0000","#0000ff","#ff00ff","#008000"]},"legend":{"title":null,"orient":"top-right"}},
"stroke":{"field":"s","type":"nominal","scale":{"domain":["5","10","15","20","25"],"range":["#000000","#ff0000","#0000ff","#ff00ff","#008000"]},"legend":{"title":null,"orient":"top-right"}},
"shape":{"field":"s","type":"nominal","scale":{"domain":["5","10","15","20","25"],"range":["M-4,0H4M-1,-1H1V1H-1Z","M-4,0H4M1.1,0A1.1,1.1,0,1,1,-1.1,0A1.1,1.1,0,1,1,1.1,0Z","M-4,0H4M0,-1.25L1.25,0.95L-1.25,0.95Z","M-4,0H4M0,1.25L1.25,-0.95L-1.25,-0.95Z","M-4,0H4M0,-1.35L1.35,0L0,1.35L-1.35,0Z"]},"legend":{"title":null,"orient":"top-right"}}}}
],
"resolve":{"scale":{"shape":"independent","fill":"independent","stroke":"independent"},"axis":{"x":"independent","y":"independent"}}},
{"width":316,"height":140,"data":{"name":"b1"},
"title":{"text":"surface coverage","frame":"group","anchor":"middle","offset":4,"baseline":"alphabetic"},
"layer":[
{"mark":{"type":"line","strokeWidth":1},"encoding":{
"x":{"field":"x","type":"quantitative","scale":{"domain":[0,15],"nice":false},"axis":{"values":[0,2.5,5,7.5,10,12.5,15],"labels":false,"title":null,"tickSize":{"condition":{"test":"datum.value % 5 === 0","value":-6},"value":-3}}},
"y":{"field":"y","type":"quantitative","scale":{"domain":[-0.1,0.4],"nice":false,"zero":false},"axis":{"title":null,"values":[-0.1,0,0.1,0.2,0.3,0.4],"format":".1f","labelExpr":"abs(datum.value/0.2-round(datum.value/0.2))<0.01 ? datum.label : ''","tickSize":{"condition":{"test":"abs(datum.value/0.2-round(datum.value/0.2))<0.01","value":-6},"value":-3}}},
"color":{"field":"s","type":"nominal","scale":{"domain":["0.03","0.06","0.09","0.12","0.15","0.18"],"range":["#000000","#ff0000","#0000ff","#ff00ff","#008000","#000080"]},"legend":null}}},
{"mark":{"type":"point","filled":true,"size":42,"opacity":1},"encoding":{
"x":{"field":"x","type":"quantitative","axis":null},"y":{"field":"y","type":"quantitative","axis":null},
"color":{"field":"s","type":"nominal","legend":null},
"shape":{"field":"s","type":"nominal","scale":{"domain":["0.03","0.06","0.09","0.12","0.15","0.18"],"range":["square","circle","triangle-up","triangle-down","diamond","triangle-left"]},"legend":null}}},
{"transform":[{"filter":"false"}],"mark":{"type":"point","filled":true,"opacity":1},"encoding":{
"x":{"field":"x","type":"quantitative","axis":{"orient":"top","values":[0,2.5,5,7.5,10,12.5,15],"labels":false,"title":null,"tickSize":{"condition":{"test":"datum.value % 5 === 0","value":-6},"value":-3}}},
"y":{"field":"y","type":"quantitative","axis":{"orient":"right","values":[-0.1,0,0.1,0.2,0.3,0.4],"labels":false,"title":null,"tickSize":{"condition":{"test":"abs(datum.value/0.2-round(datum.value/0.2))<0.01","value":-6},"value":-3}}},
"fill":{"field":"s","type":"nominal","scale":{"domain":["0.03","0.06","0.09","0.12","0.15","0.18"],"range":["#000000","#ff0000","#0000ff","#ff00ff","#008000","#000080"]},"legend":{"title":null,"orient":"top-right","labelExpr":"datum.label + ' nm⁻²'"}},
"stroke":{"field":"s","type":"nominal","scale":{"domain":["0.03","0.06","0.09","0.12","0.15","0.18"],"range":["#000000","#ff0000","#0000ff","#ff00ff","#008000","#000080"]},"legend":{"title":null,"orient":"top-right","labelExpr":"datum.label + ' nm⁻²'"}},
"shape":{"field":"s","type":"nominal","scale":{"domain":["0.03","0.06","0.09","0.12","0.15","0.18"],"range":["M-4,0H4M-1,-1H1V1H-1Z","M-4,0H4M1.1,0A1.1,1.1,0,1,1,-1.1,0A1.1,1.1,0,1,1,1.1,0Z","M-4,0H4M0,-1.25L1.25,0.95L-1.25,0.95Z","M-4,0H4M0,1.25L1.25,-0.95L-1.25,-0.95Z","M-4,0H4M0,-1.35L1.35,0L0,1.35L-1.35,0Z","M-4,0H4M-1.25,0L0.95,-1.25L0.95,1.25Z"]},"legend":{"title":null,"orient":"top-right","labelExpr":"datum.label + ' nm⁻²'"}}}}
],
"resolve":{"scale":{"shape":"independent","fill":"independent","stroke":"independent"},"axis":{"x":"independent","y":"independent"}}},
{"width":314,"height":140,"data":{"name":"a2"},
"layer":[
{"mark":{"type":"line","strokeWidth":1},"encoding":{
"x":{"field":"x","type":"quantitative","scale":{"domain":[0,15],"nice":false},"axis":{"values":[0,2.5,5,7.5,10,12.5,15],"labels":false,"title":null,"tickSize":{"condition":{"test":"datum.value % 5 === 0","value":-6},"value":-3}}},
"y":{"field":"y","type":"quantitative","scale":{"domain":[-0.1,0.7],"nice":false,"zero":false},"axis":{"title":"ρPEI-H⁺(z)(nm⁻³)","titleX":-67,"values":[-0.1,0,0.1,0.2,0.3,0.4,0.5,0.6,0.7],"format":".1f","labelExpr":"abs(datum.value/0.2-round(datum.value/0.2))<0.01 ? datum.label : ''","tickSize":{"condition":{"test":"abs(datum.value/0.2-round(datum.value/0.2))<0.01","value":-6},"value":-3}}},
"color":{"field":"s","type":"nominal","scale":{"domain":["5","10","15","20","25"],"range":["#000000","#ff0000","#0000ff","#ff00ff","#008000"]},"legend":null}}},
{"mark":{"type":"point","filled":true,"size":42,"opacity":1},"encoding":{
"x":{"field":"x","type":"quantitative","axis":null},"y":{"field":"y","type":"quantitative","axis":null},
"color":{"field":"s","type":"nominal","legend":null},
"shape":{"field":"s","type":"nominal","scale":{"domain":["5","10","15","20","25"],"range":["square","circle","triangle-up","triangle-down","diamond"]},"legend":null}}},
{"transform":[{"filter":"false"}],"mark":"point","encoding":{
"x":{"field":"x","type":"quantitative","axis":{"orient":"top","values":[0,2.5,5,7.5,10,12.5,15],"labels":false,"title":null,"tickSize":{"condition":{"test":"datum.value % 5 === 0","value":-6},"value":-3}}},
"y":{"field":"y","type":"quantitative","axis":{"orient":"right","values":[-0.1,0,0.1,0.2,0.3,0.4,0.5,0.6,0.7],"labels":false,"title":null,"tickSize":{"condition":{"test":"abs(datum.value/0.2-round(datum.value/0.2))<0.01","value":-6},"value":-3}}}}}
],
"resolve":{"axis":{"x":"independent","y":"independent"}}},
{"width":316,"height":140,"data":{"name":"b2"},
"layer":[
{"mark":{"type":"line","strokeWidth":1},"encoding":{
"x":{"field":"x","type":"quantitative","scale":{"domain":[0,15],"nice":false},"axis":{"values":[0,2.5,5,7.5,10,12.5,15],"labels":false,"title":null,"tickSize":{"condition":{"test":"datum.value % 5 === 0","value":-6},"value":-3}}},
"y":{"field":"y","type":"quantitative","scale":{"domain":[-0.1,0.7],"nice":false,"zero":false},"axis":{"title":null,"values":[-0.1,0,0.1,0.2,0.3,0.4,0.5,0.6,0.7],"format":".1f","labelExpr":"abs(datum.value/0.2-round(datum.value/0.2))<0.01 ? datum.label : ''","tickSize":{"condition":{"test":"abs(datum.value/0.2-round(datum.value/0.2))<0.01","value":-6},"value":-3}}},
"color":{"field":"s","type":"nominal","scale":{"domain":["0.03","0.06","0.09","0.12","0.15","0.18"],"range":["#000000","#ff0000","#0000ff","#ff00ff","#008000","#000080"]},"legend":null}}},
{"mark":{"type":"point","filled":true,"size":42,"opacity":1},"encoding":{
"x":{"field":"x","type":"quantitative","axis":null},"y":{"field":"y","type":"quantitative","axis":null},
"color":{"field":"s","type":"nominal","legend":null},
"shape":{"field":"s","type":"nominal","scale":{"domain":["0.03","0.06","0.09","0.12","0.15","0.18"],"range":["square","circle","triangle-up","triangle-down","diamond","triangle-left"]},"legend":null}}},
{"transform":[{"filter":"false"}],"mark":"point","encoding":{
"x":{"field":"x","type":"quantitative","axis":{"orient":"top","values":[0,2.5,5,7.5,10,12.5,15],"labels":false,"title":null,"tickSize":{"condition":{"test":"datum.value % 5 === 0","value":-6},"value":-3}}},
"y":{"field":"y","type":"quantitative","axis":{"orient":"right","values":[-0.1,0,0.1,0.2,0.3,0.4,0.5,0.6,0.7],"labels":false,"title":null,"tickSize":{"condition":{"test":"abs(datum.value/0.2-round(datum.value/0.2))<0.01","value":-6},"value":-3}}}}}
],
"resolve":{"axis":{"x":"independent","y":"independent"}}},
{"width":314,"height":140,"data":{"name":"a3"},
"layer":[
{"mark":{"type":"line","strokeWidth":1},"encoding":{
"x":{"field":"x","type":"quantitative","scale":{"domain":[0,15],"nice":false},"axis":{"values":[0,2.5,5,7.5,10,12.5,15],"labels":false,"title":null,"tickSize":{"condition":{"test":"datum.value % 5 === 0","value":-6},"value":-3}}},
"y":{"field":"y","type":"quantitative","scale":{"domain":[-0.005,0.035],"nice":false,"zero":false},"axis":{"title":"ρONs(z)(nm⁻³)","titleX":-67,"values":[-0.005,0,0.005,0.01,0.015,0.02,0.025,0.03,0.035],"format":".2f","labelExpr":"abs(datum.value/0.01-round(datum.value/0.01))<0.01 ? datum.label : ''","labelOffset":{"condition":{"test":"datum.value === 0","value":-3},"value":0},"tickSize":{"condition":{"test":"abs(datum.value/0.01-round(datum.value/0.01))<0.01","value":-6},"value":-3}}},
"color":{"field":"s","type":"nominal","scale":{"domain":["5","10","15","20","25"],"range":["#000000","#ff0000","#0000ff","#ff00ff","#008000"]},"legend":null}}},
{"mark":{"type":"point","filled":true,"size":42,"opacity":1},"encoding":{
"x":{"field":"x","type":"quantitative","axis":null},"y":{"field":"y","type":"quantitative","axis":null},
"color":{"field":"s","type":"nominal","legend":null},
"shape":{"field":"s","type":"nominal","scale":{"domain":["5","10","15","20","25"],"range":["square","circle","triangle-up","triangle-down","diamond"]},"legend":null}}},
{"transform":[{"filter":"false"}],"mark":"point","encoding":{
"x":{"field":"x","type":"quantitative","axis":{"orient":"top","values":[0,2.5,5,7.5,10,12.5,15],"labels":false,"title":null,"tickSize":{"condition":{"test":"datum.value % 5 === 0","value":-6},"value":-3}}},
"y":{"field":"y","type":"quantitative","axis":{"orient":"right","values":[-0.005,0,0.005,0.01,0.015,0.02,0.025,0.03,0.035],"labels":false,"title":null,"tickSize":{"condition":{"test":"abs(datum.value/0.01-round(datum.value/0.01))<0.01","value":-6},"value":-3}}}}}
],
"resolve":{"axis":{"x":"independent","y":"independent"}}},
{"width":316,"height":140,"data":{"name":"b3"},
"layer":[
{"mark":{"type":"line","strokeWidth":1},"encoding":{
"x":{"field":"x","type":"quantitative","scale":{"domain":[0,15],"nice":false},"axis":{"values":[0,2.5,5,7.5,10,12.5,15],"labels":false,"title":null,"tickSize":{"condition":{"test":"datum.value % 5 === 0","value":-6},"value":-3}}},
"y":{"field":"y","type":"quantitative","scale":{"domain":[-0.005,0.035],"nice":false,"zero":false},"axis":{"title":null,"values":[-0.005,0,0.005,0.01,0.015,0.02,0.025,0.03,0.035],"format":".2f","labelExpr":"abs(datum.value/0.01-round(datum.value/0.01))<0.01 ? datum.label : ''","labelOffset":{"condition":{"test":"datum.value === 0","value":-3},"value":0},"tickSize":{"condition":{"test":"abs(datum.value/0.01-round(datum.value/0.01))<0.01","value":-6},"value":-3}}},
"color":{"field":"s","type":"nominal","scale":{"domain":["0.03","0.06","0.09","0.12","0.15","0.18"],"range":["#000000","#ff0000","#0000ff","#ff00ff","#008000","#000080"]},"legend":null}}},
{"mark":{"type":"point","filled":true,"size":42,"opacity":1},"encoding":{
"x":{"field":"x","type":"quantitative","axis":null},"y":{"field":"y","type":"quantitative","axis":null},
"color":{"field":"s","type":"nominal","legend":null},
"shape":{"field":"s","type":"nominal","scale":{"domain":["0.03","0.06","0.09","0.12","0.15","0.18"],"range":["square","circle","triangle-up","triangle-down","diamond","triangle-left"]},"legend":null}}},
{"transform":[{"filter":"false"}],"mark":"point","encoding":{
"x":{"field":"x","type":"quantitative","axis":{"orient":"top","values":[0,2.5,5,7.5,10,12.5,15],"labels":false,"title":null,"tickSize":{"condition":{"test":"datum.value % 5 === 0","value":-6},"value":-3}}},
"y":{"field":"y","type":"quantitative","axis":{"orient":"right","values":[-0.005,0,0.005,0.01,0.015,0.02,0.025,0.03,0.035],"labels":false,"title":null,"tickSize":{"condition":{"test":"abs(datum.value/0.01-round(datum.value/0.01))<0.01","value":-6},"value":-3}}}}}
],
"resolve":{"axis":{"x":"independent","y":"independent"}}},
{"width":314,"height":130,"data":{"name":"a4"},
"layer":[
{"mark":{"type":"line","strokeWidth":1},"encoding":{
"x":{"field":"x","type":"quantitative","scale":{"domain":[0,15],"nice":false},"axis":{"values":[0,2.5,5,7.5,10,12.5,15],"format":".0f","labelExpr":"datum.value % 5 === 0 ? datum.label : ''","title":"z(nm)","titleFontSize":22,"titlePadding":8,"tickSize":{"condition":{"test":"datum.value % 5 === 0","value":-6},"value":-3}}},
"y":{"field":"y","type":"quantitative","scale":{"domain":[-0.016,0.1],"nice":false,"zero":false},"axis":{"title":"φONs(z)","titleX":-67,"values":[0,0.025,0.05,0.075,0.1],"format":".2f","labelExpr":"abs(datum.value/0.05-round(datum.value/0.05))<0.01 ? datum.label : ''","labelOffset":{"condition":{"test":"datum.value > 0.09","value":3},"value":0},"tickSize":{"condition":{"test":"abs(datum.value/0.05-round(datum.value/0.05))<0.01","value":-6},"value":-3}}},
"color":{"field":"s","type":"nominal","scale":{"domain":["5","10","15","20","25"],"range":["#000000","#ff0000","#0000ff","#ff00ff","#008000"]},"legend":null}}},
{"mark":{"type":"point","filled":true,"size":42,"opacity":1},"encoding":{
"x":{"field":"x","type":"quantitative","axis":null},"y":{"field":"y","type":"quantitative","axis":null},
"color":{"field":"s","type":"nominal","legend":null},
"shape":{"field":"s","type":"nominal","scale":{"domain":["5","10","15","20","25"],"range":["square","circle","triangle-up","triangle-down","diamond"]},"legend":null}}},
{"transform":[{"filter":"false"}],"mark":"point","encoding":{
"x":{"field":"x","type":"quantitative","axis":{"orient":"top","values":[0,2.5,5,7.5,10,12.5,15],"labels":false,"title":null,"tickSize":{"condition":{"test":"datum.value % 5 === 0","value":-6},"value":-3}}},
"y":{"field":"y","type":"quantitative","axis":{"orient":"right","values":[0,0.025,0.05,0.075,0.1],"labels":false,"title":null,"tickSize":{"condition":{"test":"abs(datum.value/0.05-round(datum.value/0.05))<0.01","value":-6},"value":-3}}}}}
],
"resolve":{"axis":{"x":"independent","y":"independent"}}},
{"width":316,"height":130,"data":{"name":"b4"},
"layer":[
{"mark":{"type":"line","strokeWidth":1},"encoding":{
"x":{"field":"x","type":"quantitative","scale":{"domain":[0,15],"nice":false},"axis":{"values":[0,2.5,5,7.5,10,12.5,15],"format":".0f","labelExpr":"datum.value % 5 === 0 ? datum.label : ''","title":"z(nm)","titleFontSize":22,"titlePadding":8,"tickSize":{"condition":{"test":"datum.value % 5 === 0","value":-6},"value":-3}}},
"y":{"field":"y","type":"quantitative","scale":{"domain":[-0.016,0.1],"nice":false,"zero":false},"axis":{"title":null,"values":[0,0.025,0.05,0.075,0.1],"format":".2f","labelExpr":"abs(datum.value/0.05-round(datum.value/0.05))<0.01 ? datum.label : ''","labelOffset":{"condition":{"test":"datum.value > 0.09","value":3},"value":0},"tickSize":{"condition":{"test":"abs(datum.value/0.05-round(datum.value/0.05))<0.01","value":-6},"value":-3}}},
"color":{"field":"s","type":"nominal","scale":{"domain":["0.03","0.06","0.09","0.12","0.15","0.18"],"range":["#000000","#ff0000","#0000ff","#ff00ff","#008000","#000080"]},"legend":null}}},
{"mark":{"type":"point","filled":true,"size":42,"opacity":1},"encoding":{
"x":{"field":"x","type":"quantitative","axis":null},"y":{"field":"y","type":"quantitative","axis":null},
"color":{"field":"s","type":"nominal","legend":null},
"shape":{"field":"s","type":"nominal","scale":{"domain":["0.03","0.06","0.09","0.12","0.15","0.18"],"range":["square","circle","triangle-up","triangle-down","diamond","triangle-left"]},"legend":null}}},
{"transform":[{"filter":"false"}],"mark":"point","encoding":{
"x":{"field":"x","type":"quantitative","axis":{"orient":"top","values":[0,2.5,5,7.5,10,12.5,15],"labels":false,"title":null,"tickSize":{"condition":{"test":"datum.value % 5 === 0","value":-6},"value":-3}}},
"y":{"field":"y","type":"quantitative","axis":{"orient":"right","values":[0,0.025,0.05,0.075,0.1],"labels":false,"title":null,"tickSize":{"condition":{"test":"abs(datum.value/0.05-round(datum.value/0.05))<0.01","value":-6},"value":-3}}}}}
],
"resolve":{"axis":{"x":"independent","y":"independent"}}}
]
}
